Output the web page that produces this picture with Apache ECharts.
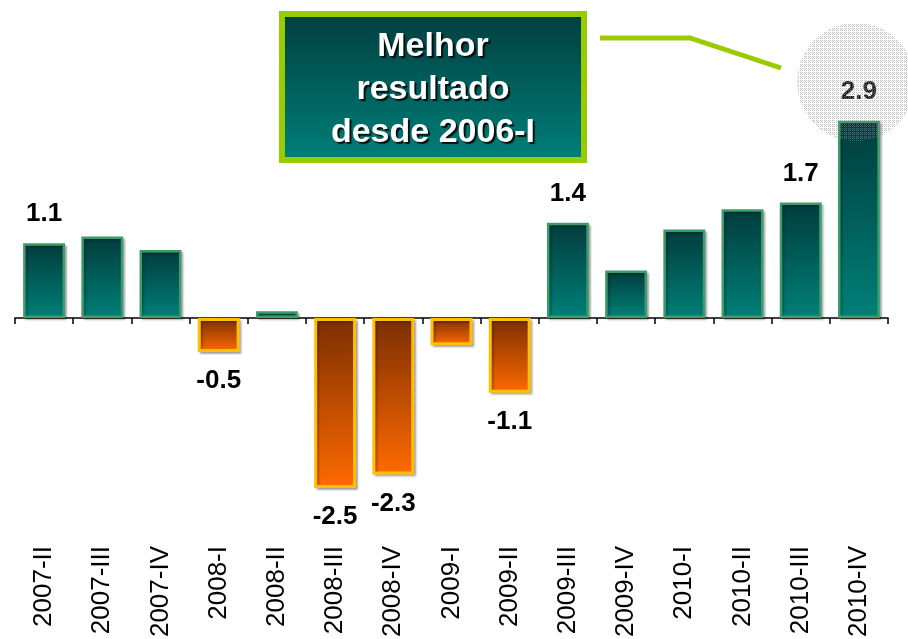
<!DOCTYPE html>
<html>
<head>
<meta charset="utf-8">
<script src="https://cdn.jsdelivr.net/npm/echarts@6/dist/echarts.min.js"></script>
<style>
  html, body { margin: 0; padding: 0; background: #fff; }
  #main { width: 908px; height: 639px; }
</style>
</head>
<body>
<div id="main"></div>
<script>
// trimestres
var quarters = ['2007-II', '2007-III', '2007-IV', '2008-I', '2008-II', '2008-III', '2008-IV',
    '2009-I', '2009-II', '2009-III', '2009-IV', '2010-I', '2010-II', '2010-III', '2010-IV'];
// variação (%)
var values = [1.1, 1.2, 1.0, -0.5, 0.1, -2.5, -2.3, -0.4, -1.1, 1.4, 0.7, 1.3, 1.6, 1.7, 2.9];
// quais barras mostram o valor
var showValue = [true, false, false, true, false, true, true, false, true, true, false, false, false, true, true];

window.onload = function () {
    var myChart = echarts.init(document.getElementById('main'));

    // padrão pontilhado do círculo (pequenos "x")
    var pat = document.createElement('canvas');
    pat.width = 4; pat.height = 4;
    var ctx = pat.getContext('2d');
    ctx.fillStyle = 'rgba(140,140,140,0.55)';
    ctx.fillRect(0, 0, 1, 1);
    ctx.fillRect(2, 0, 1, 1);
    ctx.fillRect(1, 1, 1, 1);
    ctx.fillRect(0, 2, 1, 1);
    ctx.fillRect(2, 2, 1, 1);

    var posFill = new echarts.graphic.LinearGradient(0, 0, 0, 1, [
        { offset: 0, color: '#003c3c' }, { offset: 1, color: '#008078' }]);
    var negFill = new echarts.graphic.LinearGradient(0, 0, 0, 1, [
        { offset: 0, color: '#7a2e00' }, { offset: 1, color: '#ff6a00' }]);

    var data = [];
    for (var i = 0; i < values.length; i++) {
        var v = values[i];
        data.push({
            value: v,
            itemStyle: {
                color: v >= 0 ? posFill : negFill,
                borderColor: v >= 0 ? '#3c9c6a' : '#ffc000',
                borderWidth: v >= 0 ? 2.5 : 3
            },
            label: {
                show: showValue[i],
                position: v >= 0 ? 'top' : 'bottom',
                distance: 16,
                color: i === values.length - 1 ? '#222' : '#000'
            }
        });
    }

    var option = {
        animation: false,
        grid: { left: 15, right: 20, top: 114, bottom: 117, outerBoundsMode: 'none', containLabel: false },
        xAxis: {
            type: 'category',
            data: quarters,
            axisLine: { onZero: true, lineStyle: { color: '#000', width: 1.5 } },
            axisTick: { show: true, length: 6, lineStyle: { color: '#000', width: 1.5 } },
            axisLabel: {
                rotate: 90,
                margin: 24,
                interval: 0,
                fontFamily: 'Liberation Sans, Arial',
                fontSize: 26,
                color: '#000'
            }
        },
        yAxis: {
            type: 'value',
            min: -3,
            max: 3,
            show: false,
            splitLine: { show: false }
        },
        series: [{
            type: 'bar',
            data: data,
            barCategoryGap: '28%',
            itemStyle: {
                shadowColor: 'rgba(0,0,0,0.25)',
                shadowOffsetX: 2,
                shadowOffsetY: 2,
                shadowBlur: 2
            },
            label: {
                fontFamily: 'Liberation Sans, Arial',
                fontWeight: 'bold',
                fontSize: 26,
                formatter: function (p) { return p.value.toFixed(1); }
            }
        }],
        graphic: [
            {
                type: 'circle',
                z: 100,
                shape: { cx: 856, cy: 82, r: 59 },
                style: { fill: { image: pat, repeat: 'repeat' } },
                silent: true
            },
            {
                type: 'polyline',
                z: 100,
                shape: { points: [[600, 38], [690, 38], [781, 68]] },
                style: { stroke: '#99cc00', lineWidth: 5, fill: null }
            },
            {
                type: 'rect',
                z: 100,
                shape: { x: 282, y: 14, width: 302, height: 146 },
                style: {
                    fill: new echarts.graphic.LinearGradient(0, 0, 0, 1, [
                        { offset: 0, color: '#003e3e' }, { offset: 1, color: '#00807a' }]),
                    stroke: '#99cc00',
                    lineWidth: 6
                }
            },
            {
                type: 'text',
                z: 101,
                x: 433,
                y: 90,
                style: {
                    text: 'Melhor\nresultado\ndesde 2006-I',
                    align: 'center',
                    verticalAlign: 'middle',
                    fontFamily: 'Liberation Sans, Arial',
                    fontWeight: 'bold',
                    fontSize: 34,
                    lineHeight: 43,
                    fill: '#fff',
                    textShadowColor: 'rgba(0,0,0,0.85)',
                    textShadowOffsetX: 2,
                    textShadowOffsetY: 2,
                    textShadowBlur: 1
                }
            }
        ]
    };
    myChart.setOption(option);
};
</script>
</body>
</html>
